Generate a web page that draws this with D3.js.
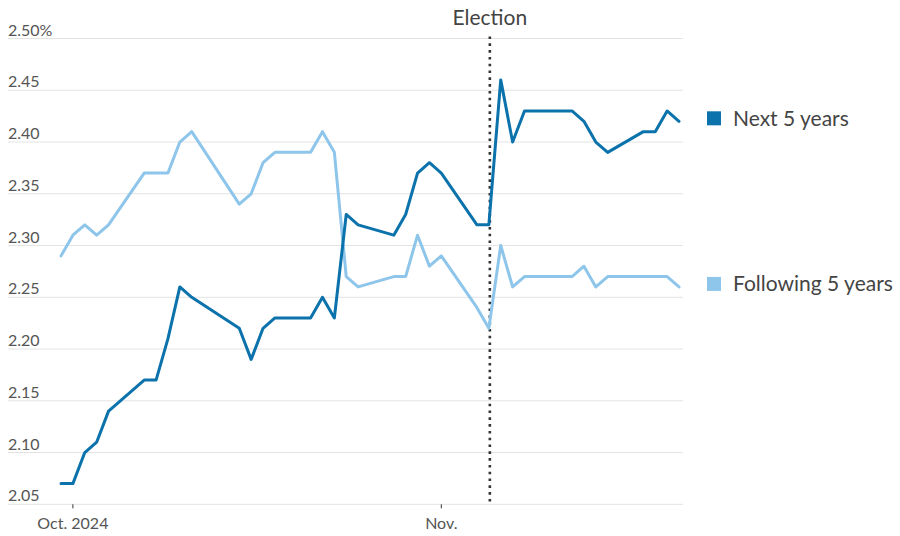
<!DOCTYPE html>
<html>
<head>
<meta charset="utf-8">
<script src="https://cdn.jsdelivr.net/npm/d3@7"></script>
<style>
  html, body { margin: 0; padding: 0; background: #fff; }
  svg { display: block; }
  text { font-family: Lato, "Noto Sans", sans-serif; }
</style>
</head>
<body>
<svg id="chart" width="900" height="536"></svg>
<script>
// ---- data ----
const dates = ["2024-09-30","2024-10-01","2024-10-02","2024-10-03","2024-10-04",
  "2024-10-07","2024-10-08","2024-10-09","2024-10-10","2024-10-11",
  "2024-10-15","2024-10-16","2024-10-17","2024-10-18",
  "2024-10-21","2024-10-22","2024-10-23","2024-10-24","2024-10-25",
  "2024-10-28","2024-10-29","2024-10-30","2024-10-31","2024-11-01",
  "2024-11-04","2024-11-05","2024-11-06","2024-11-07","2024-11-08",
  "2024-11-12","2024-11-13","2024-11-14","2024-11-15",
  "2024-11-18","2024-11-19","2024-11-20","2024-11-21"];
const next5 = [2.07,2.07,2.10,2.11,2.14, 2.17,2.17,2.21,2.26,2.25, 2.22,2.19,2.22,2.23,
  2.23,2.25,2.23,2.33,2.32, 2.31,2.33,2.37,2.38,2.37, 2.32,2.32,2.46,2.40,2.43,
  2.43,2.42,2.40,2.39, 2.41,2.41,2.43,2.42];
const following5 = [2.29,2.31,2.32,2.31,2.32, 2.37,2.37,2.37,2.40,2.41, 2.34,2.35,2.38,2.39,
  2.39,2.41,2.39,2.27,2.26, 2.27,2.27,2.31,2.28,2.29, 2.24,2.22,2.30,2.26,2.27,
  2.27,2.28,2.26,2.27, 2.27,2.27,2.27,2.26];
const seriesNames = ["Next 5 years", "Following 5 years"];
const yTicks = [2.05,2.10,2.15,2.20,2.25,2.30,2.35,2.40,2.45,2.50];
const xTickDates = ["2024-10-01","2024-11-01"];
const xTickLabels = ["Oct. 2024","Nov."];
const electionDate = "2024-11-05";
const electionLabel = "Election";

// ---- setup ----
const parse = d3.utcParse("%Y-%m-%d");
const svg = d3.select("#chart");
const colors = ["#0b72ab", "#8ec5ea"];

const x = d3.scaleUtc()
  .domain([parse(dates[0]), parse(dates[dates.length - 1])])
  .range([61, 679]);
const y = d3.scaleLinear().domain([2.05, 2.50]).range([504.3, 38.5]);

const gridLeft = 8, gridRight = 683;

// gridlines
svg.append("g").selectAll("line").data(yTicks).join("line")
  .attr("x1", gridLeft).attr("x2", gridRight)
  .attr("y1", d => y(d)).attr("y2", d => y(d))
  .attr("stroke", "#e3e3e3").attr("stroke-width", 1);

// y labels
svg.append("g").selectAll("text").data(yTicks).join("text")
  .attr("x", gridLeft).attr("y", d => y(d) - 3)
  .attr("font-size", 16).attr("fill", "#555")
  .text((d, i) => d3.format(".2f")(d) + (i === yTicks.length - 1 ? "%" : ""));

// x ticks
const xt = svg.append("g");
xt.selectAll("line").data(xTickDates).join("line")
  .attr("x1", d => x(parse(d))).attr("x2", d => x(parse(d)))
  .attr("y1", y(2.05)).attr("y2", y(2.05) + 4)
  .attr("stroke", "#333").attr("stroke-width", 1);
xt.selectAll("text").data(xTickDates).join("text")
  .attr("x", d => x(parse(d))).attr("y", y(2.05) + 25)
  .attr("text-anchor", "middle").attr("font-size", 16).attr("fill", "#555")
  .text((d, i) => xTickLabels[i]);

// election line
const ex = x(parse(electionDate)) + 1;
svg.append("line")
  .attr("x1", ex).attr("x2", ex)
  .attr("y1", y(2.50) - 2).attr("y2", y(2.05))
  .attr("stroke", "#333").attr("stroke-width", 2.6)
  .attr("stroke-dasharray", "2.6,4.2");
svg.append("text")
  .attr("x", ex).attr("y", 25)
  .attr("text-anchor", "middle").attr("font-size", 21).attr("fill", "#444")
  .text(electionLabel);

// lines
const line = d3.line()
  .x((d, i) => x(parse(dates[i])))
  .y(d => y(d));
[following5, next5].forEach((vals) => {
  const ci = vals === next5 ? 0 : 1;
  svg.append("path")
    .datum(vals)
    .attr("d", line)
    .attr("fill", "none")
    .attr("stroke", colors[ci])
    .attr("stroke-width", 3)
    .attr("stroke-linejoin", "round")
    .attr("stroke-linecap", "round");
});

// legend at end of lines
[next5, following5].forEach((vals, i) => {
  const cy = y(vals[vals.length - 1]) - 3;
  svg.append("rect")
    .attr("x", 707).attr("y", cy - 7).attr("width", 14).attr("height", 14)
    .attr("fill", colors[i]);
  svg.append("text")
    .attr("x", 733).attr("y", cy)
    .attr("dy", "0.35em")
    .attr("font-size", 21).attr("fill", "#444")
    .text(seriesNames[i]);
});
</script>
</body>
</html>
